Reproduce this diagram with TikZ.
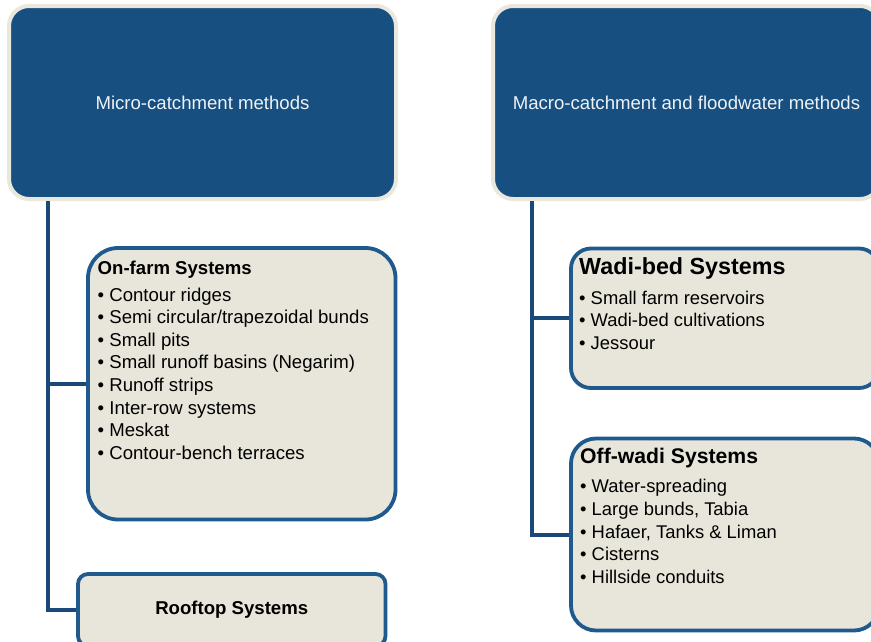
\documentclass[tikz,border=0pt]{standalone}
\usepackage{fontspec}
\setmainfont{Liberation Sans}
\definecolor{hdrblue}{HTML}{174F80}
\definecolor{hdredge}{HTML}{EAE8DC}
\definecolor{boxfill}{HTML}{E8E6DA}
\definecolor{boxline}{HTML}{1E5A8E}
\definecolor{connline}{HTML}{1A4878}
\definecolor{hdrtext}{HTML}{EEF2F6}
\begin{document}
\begin{tikzpicture}[x=1pt,y=-1pt,
  hdr/.style={draw=hdredge, fill=hdrblue, line width=4pt, rounded corners=20pt,
    text=hdrtext, font=\fontsize{18.6}{22}\selectfont, minimum width=387pt, minimum height=193pt},
  sysbox/.style={draw=boxline, fill=boxfill, line width=3.8pt},
  conn/.style={draw=connline, line width=4pt},
  txt/.style={anchor=base west, inner sep=0pt, text=black}]
\useasboundingbox (0,0) rectangle (871,641);
\clip (0,0) rectangle (871,641);
\fill[white] (0,0) rectangle (871,641);

% header boxes
\node[hdr] (micro) at (202.5,102.5) {Micro-catchment methods};
\node[hdr] (macro) at (686.5,102.5) {Macro-catchment and floodwater methods};

% system boxes
\node[sysbox, rounded corners=30pt, minimum width=307.5pt, minimum height=271.5pt] (onfarm) at (241.75,383.75) {};
\node[sysbox, rounded corners=10pt, minimum width=307.5pt, minimum height=72pt, font=\bfseries\fontsize{18.6}{22}\selectfont] (rooftop) at (231.75,610) {Rooftop Systems};
\node[sysbox, rounded corners=20pt, minimum width=308pt, minimum height=139.5pt] (wadi) at (725,318.25) {};
\node[sysbox, rounded corners=25pt, minimum width=308pt, minimum height=192pt] (offwadi) at (725,534.5) {};

% spines
\coordinate (spineL) at (48,0);
\coordinate (spineR) at (532,0);
\draw[conn] (micro.south -| spineL) |- (rooftop.west);
\draw[conn] (spineL |- onfarm.west) -- (onfarm.west);
\draw[conn] (macro.south -| spineR) |- (offwadi.west);
\draw[conn] (spineR |- wadi.west) -- (wadi.west);

% texts
\node[txt, font=\bfseries\fontsize{18.6}{22}\selectfont] (onfarmT) at (97.5,274) {On-farm Systems};
\node[txt] (onfarmL) at (97.5,301) {\parbox[t]{290pt}{\fontsize{18.6}{22.6}\selectfont
• Contour ridges\\
• Semi circular/trapezoidal bunds\\
• Small pits\\
• Small runoff basins (Negarim)\\
• Runoff strips\\
• Inter-row systems\\
• Meskat\\
• Contour-bench terraces}};

\node[txt, font=\bfseries\fontsize{23.3}{26}\selectfont] (wadiT) at (579,274) {Wadi-bed Systems};
\node[txt] (wadiL) at (579,304.3) {\parbox[t]{290pt}{\fontsize{18.4}{22.65}\selectfont
• Small farm reservoirs\\
• Wadi-bed cultivations\\
• Jessour}};

\node[txt, font=\bfseries\fontsize{21.2}{24}\selectfont] (offwadiT) at (580,463.3) {Off-wadi Systems};
\node[txt] (offwadiL) at (580,492.7) {\parbox[t]{290pt}{\fontsize{18.4}{22.65}\selectfont
• Water-spreading\\
• Large bunds, Tabia\\
• Hafaer, Tanks \& Liman\\
• Cisterns\\
• Hillside conduits}};
\end{tikzpicture}
\end{document}
